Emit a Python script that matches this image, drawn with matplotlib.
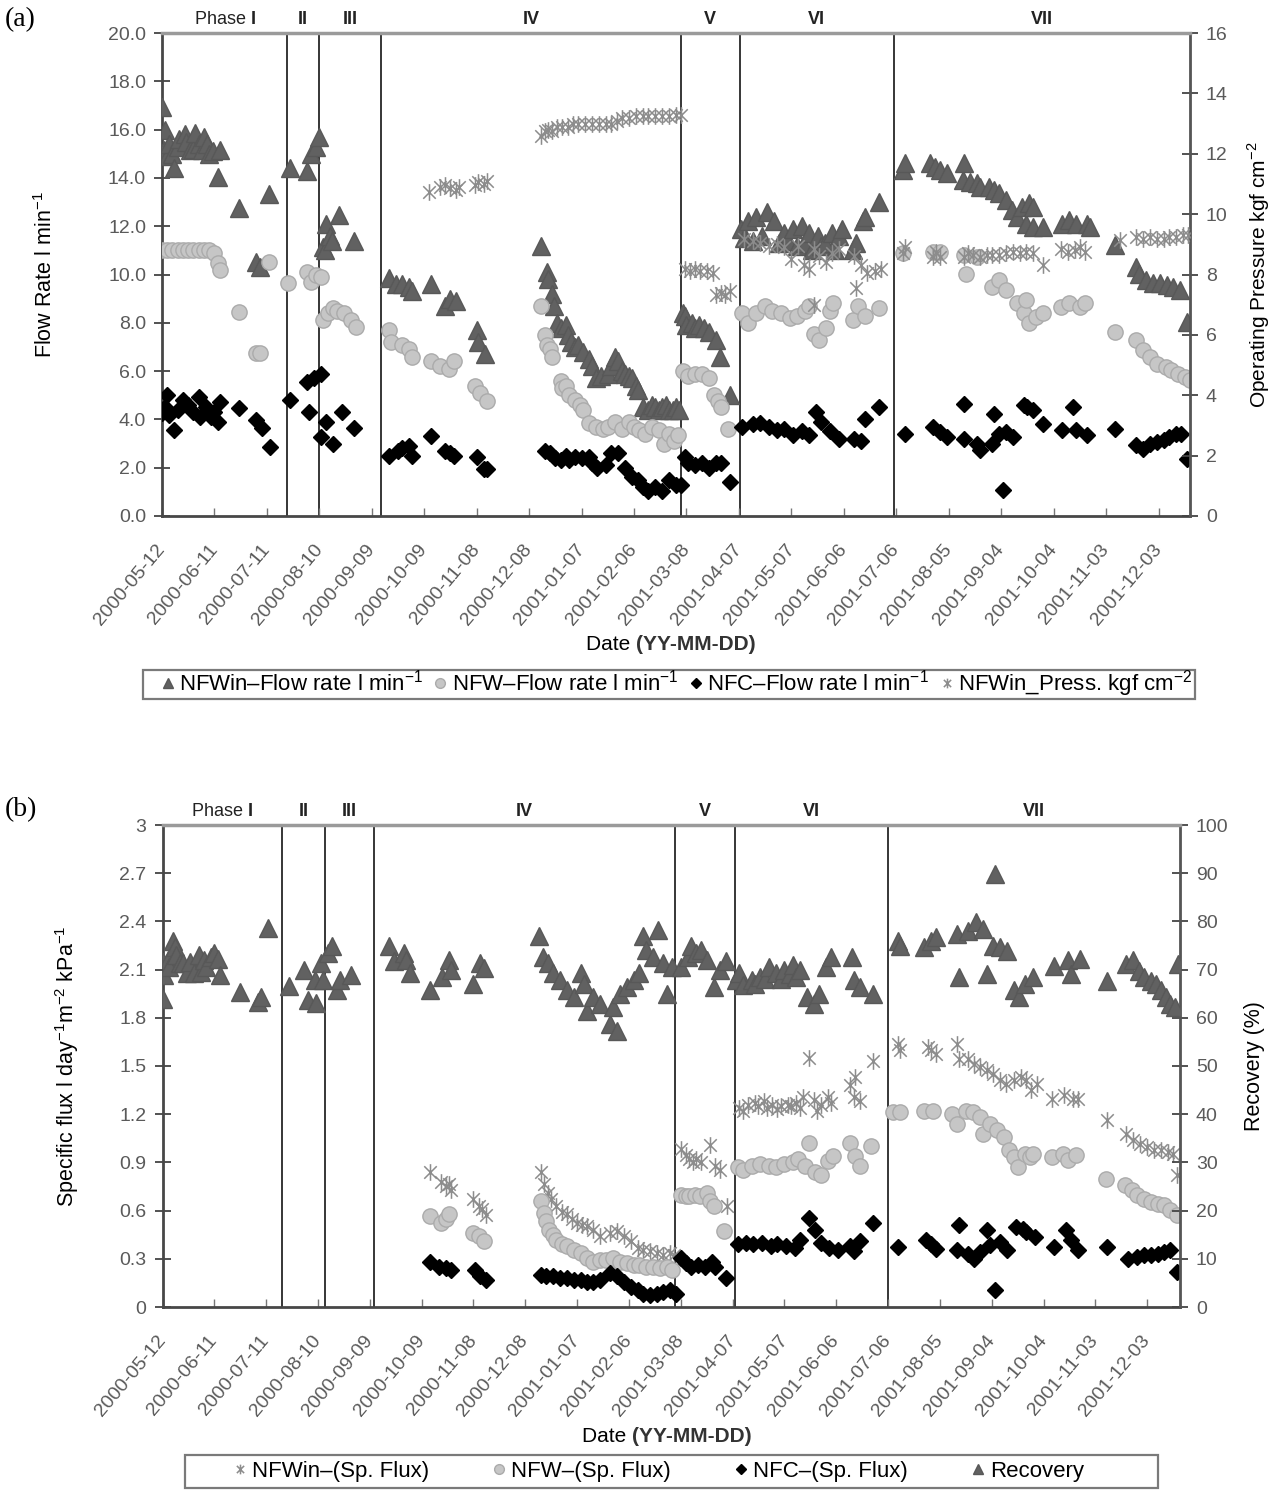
import numpy as np
import matplotlib
matplotlib.use("Agg")
import matplotlib.pyplot as plt
from matplotlib.lines import Line2D
from matplotlib.patches import Rectangle
from matplotlib.path import Path
from matplotlib.ticker import FuncFormatter

plt.rcParams['font.family'] = ['Liberation Sans', 'DejaVu Sans']
plt.rcParams['mathtext.fontset'] = 'custom'
plt.rcParams['mathtext.rm'] = 'Liberation Sans'
plt.rcParams['mathtext.bf'] = 'Liberation Sans:bold'

START = np.datetime64("2000-05-12")
tick_labels = ['2000-05-12', '2000-06-11', '2000-07-11', '2000-08-10', '2000-09-09',
               '2000-10-09', '2000-11-08', '2000-12-08', '2001-01-07', '2001-02-06',
               '2001-03-08', '2001-04-07', '2001-05-07', '2001-06-06', '2001-07-06',
               '2001-08-05', '2001-09-04', '2001-10-04', '2001-11-03', '2001-12-03']
phase_names = ['I', 'II', 'III', 'IV', 'V', 'VI', 'VII']

# ---- panel (a): (days after 2000-05-12, value)
a_phase = [71.7, 89.9, 125.3, 296.6, 330.4, 418.6]
a_end = 588

a_nfwin_flow = [
    (0, 16.95), (1, 15.15), (2, 16.0), (3, 14.9), (4, 15.4), (6, 15.0), (7, 14.4), (9, 15.3),
    (10, 15.6), (13, 15.8), (14, 15.5), (16, 15.15), (18, 15.2), (19, 15.85), (21, 15.4),
    (23, 15.15), (24, 15.7), (26, 15.4), (27, 15.0), (29, 15.1), (32, 14.05), (33, 15.15),
    (44, 12.75), (54, 10.5), (56, 10.3), (61, 13.35),
    (73, 14.4), (83, 14.3), (85, 15.0), (88, 15.3), (90, 15.7),
    (92, 11.15), (93, 11.0), (94, 12.1), (96, 11.6), (97, 11.4), (101, 12.45), (110, 11.4),
    (130, 9.86), (134, 9.6), (137, 9.6), (141, 9.5), (143, 9.3), (154, 9.6), (162, 8.7),
    (165, 9.0), (168, 8.9), (180, 7.7), (181, 7.2), (185, 6.7),
    (217, 11.2), (220, 10.1), (221, 9.8), (223, 9.2), (224, 8.7), (226, 8.0), (228, 7.8),
    (231, 7.9), (232, 7.5), (234, 7.2), (236, 7.0), (238, 7.1), (241, 6.8), (244, 6.5),
    (246, 6.2), (248, 5.7), (251, 5.8), (255, 5.9), (257, 6.2), (259, 6.6), (261, 6.4),
    (263, 6.0), (265, 5.9), (267, 5.8), (269, 5.7), (271, 5.4), (272, 5.2), (275, 4.5),
    (278, 4.4), (280, 4.6), (282, 4.5), (284, 4.4), (286, 4.5), (288, 4.6), (290, 4.4),
    (292, 4.4), (294, 4.5), (296, 4.4),
    (298, 8.4), (299, 8.3), (300, 7.9), (303, 8.0), (305, 7.8), (307, 7.9), (310, 7.8),
    (313, 7.6), (317, 7.3), (319, 6.6), (325, 5.0),
    (331, 11.9), (333, 11.5), (335, 12.2), (338, 11.4), (340, 12.4), (343, 11.6), (346, 12.6),
    (350, 12.2), (353, 11.3), (356, 11.7), (358, 11.4), (361, 11.9), (363, 11.2), (366, 12.0),
    (368, 11.3), (370, 11.7), (372, 11.0), (375, 11.6), (377, 11.2), (379, 11.3), (383, 11.7),
    (385, 11.0), (387, 11.6), (389, 11.9), (395, 11.0), (397, 11.3), (401, 12.2), (402, 12.4),
    (410, 13.0),
    (424, 14.32), (425, 14.6), (439, 14.6), (442, 14.46), (445, 14.32), (449, 14.19),
    (458, 13.91), (459, 14.6), (462, 13.84), (466, 13.77), (468, 13.63), (473, 13.63),
    (476, 13.5), (479, 13.36), (483, 13.08), (486, 12.66), (489, 12.38), (492, 12.8),
    (494, 12.11), (496, 12.94), (498, 12.8), (498, 11.98), (504, 11.98), (515, 12.11),
    (519, 12.25), (523, 12.11), (529, 12.11), (531, 11.98), (545, 11.21), (557, 10.32),
    (559, 10.04), (563, 9.77), (567, 9.63), (571, 9.63), (575, 9.56), (578, 9.49),
    (582, 9.35), (586, 8.04)]

a_nfw_flow = [
    (0, 11.0), (3, 11.0), (6, 11.0), (9, 11.0), (12, 11.0), (15, 11.0), (18, 11.0), (21, 11.0),
    (24, 11.0), (27, 11.0), (30, 10.9), (32, 10.46), (33, 10.2), (44, 8.46), (54, 6.74),
    (56, 6.74), (61, 10.5),
    (72, 9.64), (83, 10.1), (85, 9.7), (88, 10.0), (91, 9.9),
    (92, 8.1), (95, 8.4), (98, 8.6), (100, 8.5), (104, 8.4), (108, 8.1), (111, 7.84),
    (130, 7.7), (131, 7.2), (137, 7.1), (141, 6.9), (143, 6.6), (154, 6.4), (159, 6.2),
    (164, 6.1), (167, 6.4), (179, 5.4), (182, 5.1), (186, 4.75),
    (217, 8.7), (219, 7.5), (220, 7.1), (222, 6.9), (223, 6.6), (228, 5.6), (229, 5.3),
    (231, 5.4), (233, 5.0), (236, 4.8), (239, 4.6), (241, 4.4), (244, 3.85), (248, 3.7),
    (252, 3.6), (255, 3.7), (259, 3.9), (263, 3.6), (267, 3.9), (270, 3.7), (273, 3.55),
    (276, 3.4), (280, 3.7), (284, 3.55), (287, 3.0), (290, 3.4), (293, 3.1), (295, 3.35),
    (298, 6.0), (301, 5.8), (305, 5.9), (309, 5.9), (313, 5.7), (316, 5.0), (318, 4.75),
    (320, 4.5), (324, 3.6),
    (332, 8.4), (335, 8.0), (340, 8.4), (345, 8.7), (349, 8.5), (354, 8.4), (359, 8.2),
    (363, 8.3), (368, 8.5), (370, 8.7), (373, 7.55), (376, 7.3), (380, 7.8), (382, 8.5),
    (384, 8.8), (395, 8.1), (398, 8.7), (402, 8.3), (410, 8.6),
    (424, 10.87), (441, 10.94), (445, 10.94), (459, 10.8), (460, 10.04), (466, 10.73),
    (475, 9.49), (479, 9.77), (483, 9.35), (489, 8.8), (493, 8.39), (494, 8.94), (496, 7.98),
    (500, 8.25), (504, 8.39), (514, 8.66), (519, 8.8), (525, 8.66), (528, 8.8), (545, 7.62),
    (557, 7.28), (561, 6.86), (565, 6.59), (569, 6.31), (574, 6.17), (577, 6.04), (581, 5.9),
    (585, 5.77), (588, 5.63)]

a_nfc_flow = [
    (0, 4.25), (2, 4.5), (3, 5.0), (4, 4.2), (7, 3.56), (9, 4.4), (12, 4.8), (15, 4.6),
    (18, 4.3), (21, 4.94), (22, 4.1), (25, 4.5), (28, 4.1), (30, 4.3), (32, 3.9), (33, 4.73),
    (44, 4.46), (54, 3.97), (57, 3.63), (62, 2.87),
    (73, 4.8), (83, 5.56), (84, 4.3), (87, 5.7), (91, 5.9),
    (91, 3.28), (94, 3.9), (98, 3.0), (103, 4.3), (110, 3.63),
    (130, 2.5), (135, 2.7), (137, 2.8), (141, 2.9), (143, 2.5), (154, 3.3), (162, 2.7),
    (165, 2.6), (167, 2.5), (180, 2.45), (184, 1.96), (186, 1.96),
    (219, 2.7), (222, 2.6), (225, 2.4), (228, 2.3), (231, 2.5), (233, 2.3), (236, 2.45),
    (240, 2.4), (244, 2.45), (246, 2.2), (249, 2.0), (254, 2.1), (257, 2.6), (261, 2.6),
    (265, 2.0), (269, 1.6), (272, 1.5), (275, 1.2), (278, 1.05), (282, 1.2), (286, 1.05),
    (290, 1.5), (294, 1.3), (297, 1.3),
    (299, 2.45), (301, 2.2), (305, 2.1), (309, 2.2), (313, 2.0), (317, 2.2), (320, 2.2),
    (325, 1.4),
    (332, 3.7), (338, 3.8), (342, 3.85), (347, 3.7), (352, 3.55), (356, 3.6), (361, 3.35),
    (366, 3.5), (370, 3.35), (374, 4.3), (377, 3.9), (382, 3.5), (387, 3.2), (396, 3.2),
    (400, 3.1), (402, 4.0), (410, 4.5),
    (425, 3.41), (441, 3.69), (445, 3.47), (449, 3.27), (459, 4.65), (459, 3.2), (466, 3.0),
    (468, 2.72), (475, 3.0), (476, 4.24), (479, 3.41), (481, 1.07), (483, 3.47), (487, 3.27),
    (493, 4.58), (495, 4.52), (498, 4.38), (504, 3.83), (515, 3.55), (521, 4.52), (523, 3.55),
    (529, 3.34), (545, 3.62), (557, 2.93), (561, 2.79), (565, 3.0), (569, 3.06), (573, 3.13),
    (576, 3.27), (580, 3.41), (583, 3.41), (586, 2.38)]

a_nfwin_press = [
    (153, 10.74), (159, 10.9), (162, 10.96), (165, 10.85), (168, 10.8), (170, 10.9),
    (179, 10.96), (181, 11.08), (184, 11.0), (186, 11.1),
    (217, 12.6), (219, 12.75), (221, 12.8), (223, 12.75), (226, 12.87), (229, 12.9),
    (232, 12.87), (235, 13.0), (238, 13.0), (242, 13.0), (246, 13.0), (250, 13.0), (254, 13.0),
    (257, 13.0), (260, 13.1), (263, 13.2), (267, 13.2), (271, 13.25), (275, 13.25),
    (278, 13.25), (282, 13.25), (286, 13.25), (290, 13.25), (294, 13.3), (297, 13.3),
    (299, 8.17), (302, 8.1), (305, 8.17), (308, 8.1), (312, 8.1), (315, 8.05), (317, 7.33),
    (320, 7.38), (322, 7.33), (325, 7.44),
    (333, 9.17), (338, 9.1), (342, 9.06), (347, 8.95), (352, 9.0), (356, 8.9), (360, 8.5),
    (364, 8.95), (367, 8.3), (370, 8.17), (373, 8.84), (373, 7.0), (376, 8.6), (380, 8.4),
    (383, 8.7), (387, 8.84), (396, 8.6), (397, 7.55), (400, 8.3), (403, 8.05), (408, 8.1),
    (411, 8.17),
    (424, 8.7), (425, 8.92), (441, 8.59), (443, 8.75), (445, 8.59), (459, 8.59), (461, 8.7),
    (464, 8.64), (468, 8.59), (472, 8.64), (475, 8.64), (479, 8.64), (483, 8.7), (487, 8.75),
    (491, 8.7), (494, 8.75), (498, 8.7), (504, 8.31), (514, 8.86), (518, 8.75), (522, 8.81),
    (525, 8.92), (528, 8.75), (548, 9.14), (557, 9.25), (561, 9.19), (565, 9.25), (569, 9.19),
    (573, 9.19), (576, 9.25), (580, 9.25), (584, 9.3), (587, 9.3)]

# ---- panel (b)
b_phase = [69.0, 94.1, 122.5, 296.8, 331.2, 419.8]
b_end = 589

b_recovery = [
    (0, 64.0), (0, 71.6), (1, 68.9), (3, 72.0), (4, 70.6), (6, 76.0), (7, 74.7), (8, 73.0),
    (10, 71.3), (12, 71.3), (14, 69.2), (16, 71.5), (18, 69.2), (21, 73.0), (22, 69.6),
    (24, 72.0), (25, 70.6), (28, 72.7), (30, 73.4), (32, 72.3), (33, 68.9), (45, 65.4),
    (55, 63.3), (57, 64.4), (61, 78.6),
    (73, 66.5), (82, 69.9), (84, 63.7), (88, 67.8), (89, 63.0), (92, 71.3), (93, 67.8),
    (96, 73.4), (98, 74.8), (101, 65.7), (103, 67.8), (109, 68.9),
    (131, 74.8), (134, 71.7), (140, 73.4), (141, 72.0), (143, 69.2), (155, 65.7), (162, 68.5),
    (166, 72.0), (167, 69.9), (180, 67.1), (184, 71.3), (186, 70.3),
    (218, 76.9), (220, 72.7), (223, 71.3), (226, 69.2), (230, 67.8), (234, 65.7), (238, 64.3),
    (242, 69.2), (244, 67.1), (246, 61.5), (249, 64.3), (253, 62.9), (259, 58.7), (261, 62.2),
    (263, 57.3), (265, 65.0), (269, 66.4), (273, 67.8), (276, 69.2), (278, 76.9), (280, 74.1),
    (284, 72.7), (287, 78.3), (290, 71.3), (292, 65.0), (295, 70.6),
    (300, 70.6), (304, 72.7), (306, 74.8), (309, 73.4), (312, 74.1), (315, 72.0), (319, 66.4),
    (323, 69.9), (326, 71.7),
    (332, 67.8), (334, 69.2), (336, 66.8), (341, 67.8), (343, 67.0), (346, 68.5), (349, 68.0),
    (351, 70.6), (355, 69.2), (358, 68.0), (360, 69.9), (363, 69.0), (365, 71.0), (367, 68.5),
    (369, 69.9), (373, 64.3), (377, 62.9), (380, 65.0), (384, 70.6), (387, 72.7), (399, 72.7),
    (400, 67.8), (404, 66.4), (411, 65.0),
    (426, 76.0), (427, 75.0), (441, 74.6), (445, 76.0), (448, 76.7), (460, 77.4), (461, 68.4),
    (466, 78.1), (471, 79.8), (475, 78.4), (477, 69.1), (481, 75.0), (482, 89.8), (485, 74.6),
    (489, 73.9), (493, 65.7), (496, 64.3), (499, 67.0), (504, 68.4), (516, 70.8), (524, 71.9),
    (526, 69.1), (531, 72.2), (547, 67.7), (558, 71.2), (562, 72.0), (565, 69.8), (568, 68.4),
    (572, 67.7), (575, 67.0), (578, 65.7), (581, 64.3), (583, 62.9), (586, 62.2), (588, 71.2)]

b_nfwin_flux = [
    (155, 0.84), (161, 0.78), (164, 0.755), (166, 0.766), (167, 0.73), (180, 0.67),
    (183, 0.63), (185, 0.61), (187, 0.57),
    (219, 0.84), (221, 0.766), (223, 0.71), (225, 0.67), (228, 0.63), (231, 0.59), (234, 0.58),
    (237, 0.545), (240, 0.524), (243, 0.51), (246, 0.503), (249, 0.48), (253, 0.44),
    (259, 0.46), (263, 0.47), (267, 0.44), (271, 0.41), (275, 0.367), (278, 0.357),
    (282, 0.346), (286, 0.336), (290, 0.325), (294, 0.336), (296, 0.325),
    (300, 0.986), (303, 0.944), (305, 0.92), (307, 0.9), (309, 0.92), (312, 0.9), (317, 1.007),
    (320, 0.88), (323, 0.85), (327, 0.63),
    (334, 1.24), (336, 1.22), (339, 1.26), (343, 1.27), (345, 1.25), (348, 1.28), (350, 1.24),
    (353, 1.26), (356, 1.23), (358, 1.25), (362, 1.26), (364, 1.25), (367, 1.27), (369, 1.24),
    (371, 1.31), (374, 1.55), (377, 1.29), (379, 1.22), (381, 1.26), (385, 1.31), (387, 1.27),
    (398, 1.38), (400, 1.31), (401, 1.43), (404, 1.28), (411, 1.53),
    (426, 1.638), (427, 1.597), (443, 1.617), (445, 1.597), (448, 1.576), (460, 1.638),
    (461, 1.545), (466, 1.545), (470, 1.514), (473, 1.493), (477, 1.472), (481, 1.451),
    (485, 1.41), (488, 1.389), (493, 1.41), (497, 1.431), (500, 1.41), (503, 1.348),
    (506, 1.389), (515, 1.296), (522, 1.317), (527, 1.296), (530, 1.296), (547, 1.161),
    (558, 1.078), (562, 1.037), (566, 1.016), (570, 0.995), (574, 0.975), (578, 0.975),
    (582, 0.964), (585, 0.954), (587, 0.819)]

b_nfw_flux = [
    (155, 0.566), (161, 0.524), (164, 0.545), (166, 0.577), (180, 0.46), (183, 0.44),
    (186, 0.41),
    (219, 0.66), (221, 0.587), (222, 0.535), (224, 0.48), (226, 0.45), (228, 0.42), (231, 0.39),
    (234, 0.378), (238, 0.357), (242, 0.336), (246, 0.304), (249, 0.283), (253, 0.294),
    (257, 0.294), (261, 0.304), (265, 0.283), (269, 0.273), (273, 0.262), (276, 0.262),
    (280, 0.252), (284, 0.252), (288, 0.241), (292, 0.252), (295, 0.23),
    (300, 0.70), (303, 0.69), (305, 0.69), (308, 0.70), (311, 0.69), (315, 0.71), (317, 0.66),
    (319, 0.63), (325, 0.47),
    (333, 0.87), (336, 0.85), (341, 0.88), (346, 0.89), (351, 0.88), (355, 0.87), (360, 0.89),
    (365, 0.90), (368, 0.92), (372, 0.88), (374, 1.02), (378, 0.84), (381, 0.82), (385, 0.91),
    (388, 0.94), (398, 1.02), (401, 0.94), (404, 0.88), (410, 1.0),
    (423, 1.213), (427, 1.213), (441, 1.223), (446, 1.223), (457, 1.203), (460, 1.14),
    (465, 1.223), (469, 1.213), (473, 1.182), (475, 1.078), (479, 1.14), (483, 1.099),
    (487, 1.057), (490, 0.975), (493, 0.933), (495, 0.871), (499, 0.954), (502, 0.933),
    (504, 0.954), (515, 0.933), (521, 0.954), (524, 0.912), (529, 0.943), (546, 0.798),
    (557, 0.757), (561, 0.726), (564, 0.695), (568, 0.674), (572, 0.653), (576, 0.643),
    (580, 0.632), (583, 0.601), (587, 0.57)]

b_nfc_flux = [
    (155, 0.283), (160, 0.252), (164, 0.241), (167, 0.23), (181, 0.23), (184, 0.19),
    (187, 0.168),
    (219, 0.2), (222, 0.19), (226, 0.19), (230, 0.178), (234, 0.178), (238, 0.168),
    (242, 0.168), (246, 0.157), (249, 0.157), (253, 0.168), (259, 0.21), (263, 0.19),
    (267, 0.157), (271, 0.126), (275, 0.105), (278, 0.084), (282, 0.073), (286, 0.084),
    (290, 0.094), (294, 0.105), (297, 0.084),
    (300, 0.304), (303, 0.273), (306, 0.252), (310, 0.262), (314, 0.252), (318, 0.283),
    (320, 0.252), (326, 0.178),
    (333, 0.39), (338, 0.40), (342, 0.39), (347, 0.40), (352, 0.378), (356, 0.39), (361, 0.378),
    (366, 0.367), (369, 0.42), (374, 0.556), (378, 0.48), (381, 0.40), (386, 0.367),
    (391, 0.357), (398, 0.378), (400, 0.346), (404, 0.41), (411, 0.524),
    (426, 0.373), (442, 0.415), (445, 0.394), (448, 0.363), (460, 0.352), (461, 0.508),
    (466, 0.332), (470, 0.301), (473, 0.342), (477, 0.477), (479, 0.384), (482, 0.104),
    (485, 0.404), (489, 0.352), (494, 0.498), (498, 0.487), (500, 0.466), (505, 0.435),
    (516, 0.373), (523, 0.477), (526, 0.415), (530, 0.352), (547, 0.373), (559, 0.301),
    (564, 0.311), (568, 0.321), (572, 0.321), (576, 0.332), (580, 0.342), (583, 0.352),
    (587, 0.218)]


def dates(days):
    return START + np.round(np.asarray(days, dtype=float) * 24).astype(int).astype('timedelta64[h]')


def xy(series):
    d, v = zip(*series)
    return dates(d), np.array(v)


# marker styles
star = Path([(0, -1), (0, 1), (-0.75, -0.75), (0.75, 0.75), (-0.75, 0.75), (0.75, -0.75)],
            [Path.MOVETO, Path.LINETO] * 3)
TRI = dict(marker='^', ms=12.5, color='#616161', mec='#585858', ls='none')
CIR = dict(marker='o', ms=11, color='#c6c6c6', mec='#ababab', mew=1, ls='none')
DIA = dict(marker='D', ms=8.5, color='black', ls='none')
AST = dict(marker=star, ms=12, color='#8c8c8c', mfc='none', mew=1.1, ls='none')

GREY = '#5a5a5a'


def style(ax, ax2, end, bounds):
    ax.set_xlim(dates([0])[0], dates([end])[0])
    ax.set_xticks(np.array(tick_labels, dtype='datetime64[D]'))
    ax.set_xticklabels(tick_labels, rotation=50, ha='right', va='center',
                       rotation_mode='anchor', fontsize=14, color=GREY)
    ax.tick_params(axis='x', direction='in', length=6, width=1, color='#777', pad=22)
    ax.tick_params(axis='y', direction='inout', length=11, width=1.3, color='#444',
                   labelsize=14, labelcolor=GREY, pad=6)
    ax2.tick_params(axis='y', direction='inout', length=11, width=1.3, color='#444',
                    labelsize=14, labelcolor=GREY, pad=6)
    for sp in ('left', 'bottom'):
        ax.spines[sp].set_linewidth(2)
        ax.spines[sp].set_color('#474747')
    ax2.spines['right'].set_linewidth(2)
    ax2.spines['right'].set_color('#555')
    ax2.spines['top'].set_linewidth(2.5)
    ax2.spines['top'].set_color('#9a9a9a')
    ax.spines['top'].set_visible(False)
    ax2.spines['left'].set_visible(False)
    ax2.spines['bottom'].set_visible(False)

    for b in bounds:
        ax.axvline(dates([b])[0], color='black', lw=1.1, zorder=1)
    edges = [0] + list(bounds) + [end]
    tr = ax.get_xaxis_transform()
    for i, name in enumerate(phase_names):
        mid = dates([(edges[i] + edges[i + 1]) / 2])[0]
        txt = r'Phase $\mathbf{%s}$' % name if i == 0 else name
        ax.text(mid, 1.028, txt, transform=tr, ha='center', va='center', fontsize=13,
                fontweight='normal' if i == 0 else 'bold', color='#222')


def legend_box(x0, y0, x1, y1):
    fig.add_artist(Rectangle((x0 / 1273, 1 - y1 / 1490), (x1 - x0) / 1273, (y1 - y0) / 1490,
                             transform=fig.transFigure, fill=False, edgecolor='#7a7a7a', lw=1.6))


fig = plt.figure(figsize=(12.73, 14.9), dpi=100)

# ---------------- (a)
ax = fig.add_axes([162 / 1273, 1 - 516 / 1490, 1028 / 1273, 483 / 1490])
ax2 = ax.twinx()
ax.plot(*xy(a_nfwin_flow), **TRI, zorder=3)
ax.plot(*xy(a_nfw_flow), **CIR, zorder=3)
ax.plot(*xy(a_nfc_flow), **DIA, zorder=3)
ax2.plot(*xy(a_nfwin_press), **AST, zorder=3)
ax.set_ylim(0, 20)
ax.set_yticks(np.arange(0, 20.1, 2))
ax.yaxis.set_major_formatter(FuncFormatter(lambda v, p: '%.1f' % v))
ax2.set_ylim(0, 16)
ax2.set_yticks(np.arange(0, 17, 2))
style(ax, ax2, a_end, a_phase)
ax.set_ylabel('Flow Rate l min$^{-1}$', fontsize=15.5)
ax.yaxis.set_label_coords(-0.102, 0.5)
ax2.set_ylabel('Operating Pressure kgf cm$^{-2}$', fontsize=15)
ax2.yaxis.set_label_coords(1.054, 0.5)

fig.text(5 / 1273, 1 - 20 / 1490, '(a)', fontsize=20, family='Liberation Serif', va='center')
fig.text(636 / 1273, 1 - 645 / 1490, 'Date ', fontsize=15, ha='right', va='center')
fig.text(636 / 1273, 1 - 645 / 1490, '(YY-MM-DD)', fontsize=15, ha='left', va='center',
         fontweight='bold', color='#333')

handles = [Line2D([], [], **dict(TRI, ms=7)), Line2D([], [], **dict(CIR, ms=7)),
           Line2D([], [], **dict(DIA, ms=5.5)), Line2D([], [], **dict(AST, ms=7))]
labels = ['NFWin\u2013Flow rate l min$^{-1}$', 'NFW\u2013Flow rate l min$^{-1}$',
          'NFC\u2013Flow rate l min$^{-1}$', 'NFWin_Press. kgf cm$^{-2}$']
fig.legend(handles, labels, loc='center', bbox_to_anchor=(676 / 1273, 1 - 684 / 1490),
           ncol=4, fontsize=16, frameon=False, handlelength=0.7, handletextpad=0.15,
           columnspacing=0.45)
legend_box(143, 670, 1195, 699)

# ---------------- (b)
bx = fig.add_axes([162.5 / 1273, 1 - 1307 / 1490, 1017.5 / 1273, 482 / 1490])
bx2 = bx.twinx()
bx.plot(*xy(b_nfwin_flux), **AST, zorder=3)
bx.plot(*xy(b_nfw_flux), **CIR, zorder=3)
bx.plot(*xy(b_nfc_flux), **DIA, zorder=3)
bx2.plot(*xy(b_recovery), **TRI, zorder=3)
bx.set_ylim(0, 3)
bx.set_yticks(np.arange(0, 3.01, 0.3))
bx.yaxis.set_major_formatter(FuncFormatter(lambda v, p: '%g' % round(v, 1)))
bx2.set_ylim(0, 100)
bx2.set_yticks(np.arange(0, 101, 10))
style(bx, bx2, b_end, b_phase)
bx.set_ylabel('Specific flux l day$^{-1}$m$^{-2}$ kPa$^{-1}$', fontsize=15.5)
bx.yaxis.set_label_coords(-0.08, 0.5)
bx2.set_ylabel('Recovery (%)', fontsize=15.5)
bx2.yaxis.set_label_coords(1.063, 0.5)

fig.text(5 / 1273, 1 - 810 / 1490, '(b)', fontsize=20, family='Liberation Serif', va='center')
fig.text(632 / 1273, 1 - 1437 / 1490, 'Date ', fontsize=15, ha='right', va='center')
fig.text(632 / 1273, 1 - 1437 / 1490, '(YY-MM-DD)', fontsize=15, ha='left', va='center',
         fontweight='bold', color='#333')

handles = [Line2D([], [], **dict(AST, ms=7)), Line2D([], [], **dict(CIR, ms=7)),
           Line2D([], [], **dict(DIA, ms=5.5)), Line2D([], [], **dict(TRI, ms=7))]
labels = ['NFWin\u2013(Sp. Flux)', 'NFW\u2013(Sp. Flux)', 'NFC\u2013(Sp. Flux)', 'Recovery']
fig.legend(handles, labels, loc='center', bbox_to_anchor=(658 / 1273, 1 - 1471 / 1490),
           ncol=4, fontsize=16, frameon=False, handlelength=0.7, handletextpad=0.2,
           columnspacing=2.8)
legend_box(185, 1455, 1158, 1488)

fig.savefig('out.png', dpi=100)
